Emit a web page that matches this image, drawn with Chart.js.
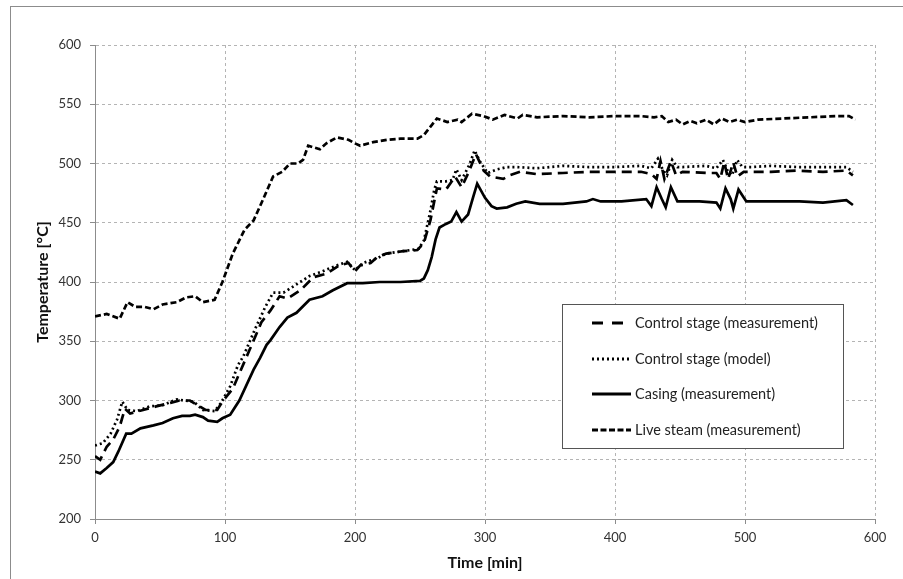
<!DOCTYPE html>
<html>
<head>
  <meta charset="UTF-8">
  <title>Temperature chart</title>
  <script src="https://cdn.jsdelivr.net/npm/chart.js@4.4.0/dist/chart.umd.min.js"></script>
  <style>
    body { margin: 0; background: #fff; }
    #wrap { position: relative; width: 903px; height: 579px; }
    #frame { position: absolute; left: 10px; top: 6px; width: 900px; height: 590px; border: 1px solid #8c8c8c; pointer-events: none; }
  </style>
</head>
<body>
<div id="wrap">
  <canvas id="chart" width="903" height="579"></canvas>
  <div id="frame"></div>
</div>
<script>
  // values (time in min, temperature in °C)
  const xTicks = [0, 100, 200, 300, 400, 500, 600];
  const yTicks = [200, 250, 300, 350, 400, 450, 500, 550, 600];

  const ctrlMeasT = [0, 4, 9, 14, 19, 23, 27, 37, 47, 58, 65, 73, 79, 85, 94, 98, 106, 119, 128, 135, 142, 148, 158, 168, 178, 188, 195, 200, 204, 212, 217, 224, 237, 248, 253, 258, 263, 270, 277, 282, 288, 293, 299, 304, 314, 319, 327, 340, 360, 380, 400, 420, 428, 432, 435, 438, 443, 447, 452, 470, 478, 481, 484, 487, 491, 494, 499, 505, 520, 540, 560, 578, 583];
  const ctrlMeasV = [253, 250, 261, 267, 278, 293, 289, 292, 295, 298, 300, 300, 296, 292, 292, 299, 310, 343, 366, 376, 388, 386, 393, 404, 407, 414, 416, 409, 414, 416, 421, 424, 426, 427, 433, 452, 479, 478, 489, 480, 494, 508, 494, 489, 487, 490, 493, 491, 492, 493, 493, 493, 491, 487, 502, 487, 502, 490, 493, 492, 492, 487, 501, 487, 501, 489, 493, 493, 493, 494, 493, 494, 490];

  const ctrlModelT = [0, 6, 12, 17, 21, 25, 32, 42, 52, 63, 68, 76, 83, 92, 97, 104, 110, 114, 123, 131, 137, 145, 155, 165, 175, 186, 194, 200, 206, 217, 224, 237, 249, 253, 258, 261, 263, 270, 275, 278, 282, 288, 292, 296, 302, 309, 317, 324, 340, 360, 380, 400, 420, 428, 433, 437, 440, 444, 448, 452, 470, 478, 483, 487, 490, 494, 498, 505, 520, 540, 560, 578, 583];
  const ctrlModelV = [262, 264, 272, 284, 299, 292, 291, 295, 296, 301, 300, 299, 292, 291, 298, 312, 330, 337, 360, 379, 391, 391, 398, 405, 409, 414, 417, 410, 416, 420, 424, 426, 428, 435, 460, 478, 485, 485, 486, 495, 486, 499, 511, 502, 492, 495, 497, 497, 496, 498, 497, 497, 498, 496, 504, 494, 490, 503, 497, 497, 498, 496, 503, 493, 490, 503, 497, 497, 498, 497, 497, 497, 493];

  const casingT = [0, 4, 9, 14, 18, 24, 28, 35, 45, 52, 60, 67, 73, 77, 83, 87, 94, 98, 104, 111, 122, 127, 132, 135, 142, 148, 155, 165, 175, 183, 194, 206, 219, 235, 250, 253, 256, 259, 262, 265, 270, 274, 278, 282, 287, 291, 294, 300, 305, 309, 317, 324, 331, 342, 360, 378, 383, 389, 405, 424, 428, 432, 436, 439, 443, 448, 465, 478, 481, 485, 489, 491, 495, 501, 520, 542, 560, 578, 583];
  const casingV = [240, 238.5, 243, 248, 257, 272, 272, 276.5, 279, 281, 285, 287, 287, 288, 286, 283, 282, 285, 288, 300, 326, 336, 347, 351, 362, 370, 374, 385, 388, 393, 399, 399, 400, 400, 401, 403, 410, 421, 436, 446, 449, 451, 459, 451, 457, 472, 483, 471, 464, 462, 463, 466, 468, 466, 466, 468, 470, 468, 468, 470, 464, 480, 470, 463, 480, 468, 468, 467, 462, 479, 470, 462, 478, 468, 468, 468, 467, 469, 465];

  const liveT = [0, 9, 19, 25, 31, 38, 45, 52, 63, 70, 77, 83, 92, 98, 106, 115, 122, 129, 137, 144, 150, 156, 160, 164, 173, 178, 186, 195, 200, 204, 214, 225, 235, 248, 253, 263, 271, 279, 282, 290, 299, 306, 315, 325, 329, 340, 360, 380, 400, 420, 430, 436, 441, 447, 452, 458, 463, 470, 476, 482, 488, 494, 500, 510, 530, 550, 570, 580, 585];
  const liveV = [371, 373, 369, 383, 379, 379, 377, 381, 383, 387, 388, 383, 385, 400, 424, 444, 452, 469, 489, 493, 500, 500, 503, 515, 512, 517, 522, 520, 517, 515, 518, 520, 521, 521, 524, 538, 535, 537, 535, 542, 540, 537, 541, 538, 541, 539, 540, 539, 540, 540, 539, 540, 535, 537, 533, 536, 534, 537, 533, 538, 535, 537, 535, 537, 538, 539, 540, 540, 537];

  const seriesNames = ['Control stage (measurement)', 'Control stage (model)', 'Casing (measurement)', 'Live steam (measurement)'];

  function pts(t, v) { return t.map((x, i) => ({ x: x, y: v[i] })); }

  // legend box drawn inside the plot, like the original
  const boxLegend = {
    id: 'boxLegend',
    afterDraw(chart) {
      const ctx = chart.ctx;
      const bx = 562, by = 304, bw = 281, bh = 144;
      ctx.save();
      ctx.fillStyle = '#fff';
      ctx.fillRect(bx, by, bw, bh);
      ctx.strokeStyle = '#555';
      ctx.lineWidth = 1;
      ctx.strokeRect(bx + 0.5, by + 0.5, bw, bh);
      const rows = [323, 359, 394, 430];
      const sampleDash = [[11, 9], [2, 3], [], [6, 2.5]];
      chart.data.datasets.forEach((ds, i) => {
        const y = rows[i];
        ctx.beginPath();
        ctx.setLineDash(sampleDash[i]);
        ctx.lineWidth = 3;
        ctx.strokeStyle = '#000';
        ctx.moveTo(592, y);
        ctx.lineTo(631, y);
        ctx.stroke();
        ctx.setLineDash([]);
        ctx.fillStyle = '#222';
        ctx.font = '14.5px Lato';
        ctx.textBaseline = 'middle';
        ctx.textAlign = 'left';
        ctx.fillText(ds.label, 635, y);
      });
      ctx.restore();
    }
  };

  const chartData = {
    datasets: [
      { label: seriesNames[0], data: pts(ctrlMeasT, ctrlMeasV), borderColor: '#000', borderWidth: 2.7, borderDash: [10, 6], pointRadius: 0, tension: 0 },
      { label: seriesNames[1], data: pts(ctrlModelT, ctrlModelV), borderColor: '#000', borderWidth: 2.7, borderDash: [2, 3], pointRadius: 0, tension: 0 },
      { label: seriesNames[2], data: pts(casingT, casingV), borderColor: '#000', borderWidth: 2.7, pointRadius: 0, tension: 0 },
      { label: seriesNames[3], data: pts(liveT, liveV), borderColor: '#000', borderWidth: 2.7, borderDash: [6, 3], pointRadius: 0, tension: 0 }
    ]
  };

  new Chart(document.getElementById('chart'), {
    type: 'line',
    data: chartData,
    options: {
      responsive: false,
      animation: false,
      layout: { padding: { left: 0, top: 45, right: 28, bottom: 0 } },
      plugins: { legend: { display: false }, tooltip: { enabled: false } },
      scales: {
        x: {
          type: 'linear', min: 0, max: 600,
          afterBuildTicks: s => { s.ticks = xTicks.map(v => ({ value: v })); },
          afterFit: s => { s.height = 60; },
          grid: { color: '#b4b4b4', tickColor: '#8c8c8c', tickLength: 5 },
          border: { color: '#8c8c8c', dash: [3, 3] },
          ticks: { color: '#333', font: { family: 'Lato', size: 13 }, padding: 6, maxRotation: 0 },
          title: { display: true, text: 'Time [min]', color: '#111', font: { family: 'Lato', size: 16, weight: 'bold' }, padding: { top: 0, bottom: 7 } }
        },
        y: {
          min: 200, max: 600,
          afterBuildTicks: s => { s.ticks = yTicks.map(v => ({ value: v })); },
          afterFit: s => { s.width = 95; },
          grid: { color: '#b4b4b4', tickColor: '#8c8c8c', tickLength: 5 },
          border: { color: '#8c8c8c', dash: [3, 3] },
          ticks: { color: '#333', font: { family: 'Lato', size: 13 }, padding: 9 },
          title: { display: true, text: 'Temperature [°C]', color: '#111', font: { family: 'Lato', size: 16, weight: 'bold' }, padding: { top: 33, bottom: 0 } }
        }
      }
    },
    plugins: [boxLegend]
  });
</script>
</body>
</html>
